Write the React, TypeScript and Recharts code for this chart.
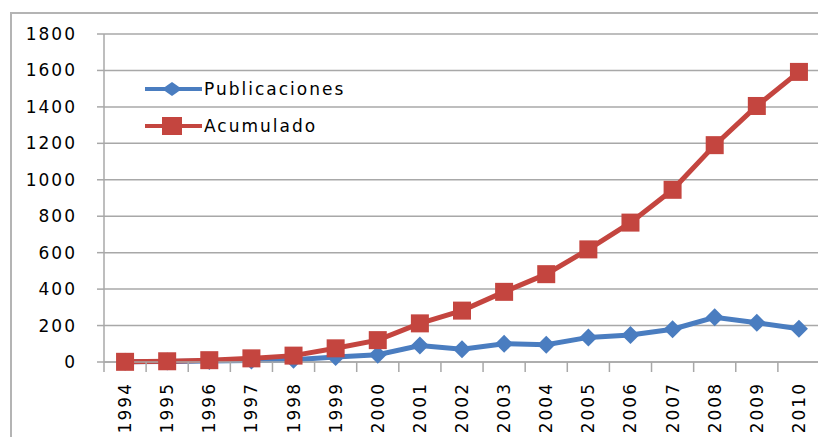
import { CartesianGrid, Line, LineChart, XAxis, YAxis } from "recharts";

const years = [
  "1994", "1995", "1996", "1997", "1998", "1999", "2000", "2001", "2002",
  "2003", "2004", "2005", "2006", "2007", "2008", "2009", "2010",
];
const publicaciones = [1, 3, 5, 8, 12, 28, 40, 90, 70, 100, 95, 135, 148, 180, 245, 215, 182];
const acumulado = [1, 4, 10, 20, 35, 75, 120, 212, 282, 385, 482, 618, 765, 945, 1190, 1405, 1592];
const yTicks = [0, 200, 400, 600, 800, 1000, 1200, 1400, 1600, 1800];

const data = years.map((year, i) => ({
  year,
  publicaciones: publicaciones[i],
  acumulado: acumulado[i],
}));

const BLUE = "#4a7dc0";
const RED = "#c4453f";
const GRID = "#a8a8a8";
const FONT = "'DejaVu Sans', Verdana, sans-serif";
const HALF_STEP = (820 - 104) / years.length / 2;

const Diamond = (props: any) => {
  const { cx, cy, index } = props;
  if (cx == null || cy == null) return null;
  const r = 9;
  return (
    <path
      key={`d-${index}`}
      d={`M${cx},${cy - r}L${cx + r},${cy}L${cx},${cy + r}L${cx - r},${cy}Z`}
      fill={BLUE}
    />
  );
};

const Square = (props: any) => {
  const { cx, cy, index } = props;
  if (cx == null || cy == null) return null;
  const s = 18;
  return <rect key={`s-${index}`} x={cx - s / 2} y={cy - s / 2} width={s} height={s} fill={RED} />;
};

const YearTick = (props: any) => {
  const { x, y, payload } = props;
  const ty = y + 20;
  return (
    <g>
      <line x1={x - HALF_STEP} x2={x - HALF_STEP} y1={y} y2={y + 10} stroke={GRID} strokeWidth={1.5} />
      <text
        x={x}
        y={ty}
        transform={`rotate(-90, ${x}, ${ty})`}
        textAnchor="end"
        dominantBaseline="central"
        fontFamily={FONT}
        fontSize={17}
        letterSpacing={2}
        fill="#000"
      >
        {payload.value}
      </text>
    </g>
  );
};

// legend drawn as an overlay so it doesn't push the plot area
const LegendBox = () => (
  <svg width={220} height={80} style={{ position: "absolute", left: 145, top: 78 }}>
    <line x1={0} x2={57} y1={11} y2={11} stroke={BLUE} strokeWidth={4} />
    <path d="M27,4L37,11L27,18L17,11Z" fill={BLUE} />
    <text x={59} y={11} dominantBaseline="central" fontFamily={FONT} fontSize={17} letterSpacing={2} fill="#000">
      Publicaciones
    </text>
    <line x1={0} x2={57} y1={48} y2={48} stroke={RED} strokeWidth={4} />
    <rect x={17} y={39} width={20} height={18} fill={RED} />
    <text x={59} y={48} dominantBaseline="central" fontFamily={FONT} fontSize={17} letterSpacing={2} fill="#000">
      Acumulado
    </text>
  </svg>
);

export default function App() {
  return (
    <div
      style={{
        position: "absolute",
        left: 0,
        top: 0,
        width: 818,
        height: 437,
        overflow: "hidden",
        background: "#fff",
      }}
    >
      <div
        style={{
          position: "absolute",
          left: 10,
          top: 12,
          width: 900,
          height: 500,
          border: "2px solid #b4b4b4",
        }}
      />
      <div style={{ position: "absolute", left: 0, top: 0 }}>
        <LineChart width={830} height={437} data={data} margin={{ top: 34, right: 10, bottom: 0, left: 0 }}>
          <CartesianGrid vertical={false} stroke={GRID} strokeWidth={1.5} />
          <XAxis
            dataKey="year"
            height={75}
            padding={{ left: HALF_STEP, right: HALF_STEP }}
            axisLine={{ stroke: GRID, strokeWidth: 1.5 }}
            tickLine={false}
            tickSize={0}
            tickMargin={0}
            interval={0}
            tick={<YearTick />}
          />
          <YAxis
            width={104}
            domain={[0, 1800]}
            ticks={yTicks}
            interval={0}
            axisLine={{ stroke: GRID, strokeWidth: 1.5 }}
            tickLine={{ stroke: GRID, strokeWidth: 1.5 }}
            tickSize={7}
            tickMargin={20}
            tick={{ fill: "#000", fontSize: 17, fontFamily: FONT, letterSpacing: 2 }}
          />
          <Line
            dataKey="publicaciones"
            stroke={BLUE}
            strokeWidth={5}
            dot={Diamond}
            activeDot={false}
            isAnimationActive={false}
          />
          <Line
            dataKey="acumulado"
            stroke={RED}
            strokeWidth={5}
            dot={Square}
            activeDot={false}
            isAnimationActive={false}
          />
        </LineChart>
      </div>
      <LegendBox />
    </div>
  );
}
